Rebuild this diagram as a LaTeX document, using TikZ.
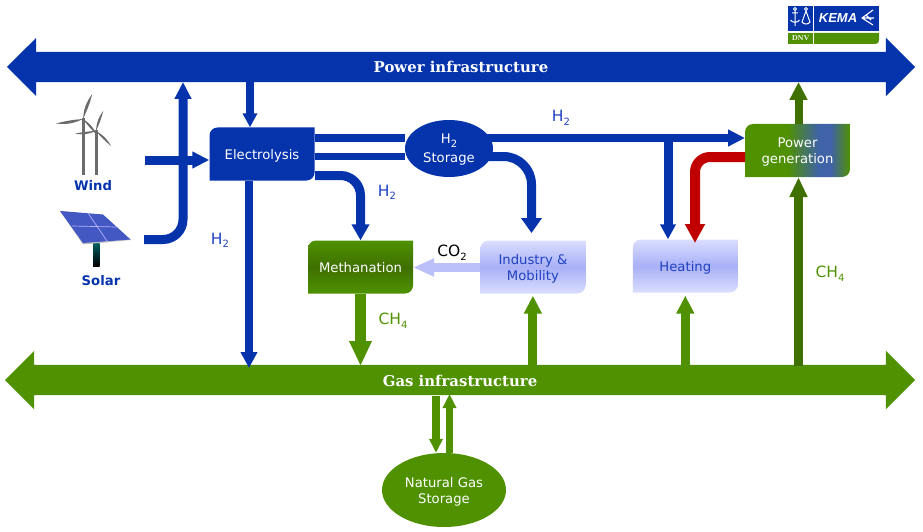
\documentclass[tikz,border=0pt]{standalone}
\usepackage{fontspec}
\setmainfont{DejaVu Sans}
\newfontfamily\titlefont{DejaVu Serif}
\newfontfamily\logofont{Liberation Sans}
\usetikzlibrary{arrows.meta,backgrounds,positioning}
\usetikzlibrary{shapes.geometric,shapes.arrows}

\definecolor{hblue}{HTML}{0433AC}
\definecolor{ggreen}{HTML}{4F9100}
\definecolor{gdark}{HTML}{3F7000}
\definecolor{hred}{HTML}{C00000}
\definecolor{lightco}{HTML}{BBC0FA}
\definecolor{paleedge}{HTML}{DADEFF}
\definecolor{palemid}{HTML}{A9B0F6}
\definecolor{inktext}{HTML}{1F42C0}
\definecolor{genblue}{HTML}{3F63A6}
\definecolor{cellblue}{HTML}{4458C4}
\pgfdeclarehorizontalshading{genshade}{100bp}{color(0bp)=(ggreen); color(45bp)=(ggreen); color(60bp)=(genblue); color(66bp)=(genblue); color(75bp)=(ggreen); color(100bp)=(ggreen)}

\newcommand{\lowtxt}[1]{\raisebox{-3.5pt}{\fontsize{10}{10}\selectfont #1}}
\newcommand{\blade}[2]{\fill[turbine] (#1) to[bend left=16] (#2) to[bend left=5] cycle;}

\begin{document}
\begin{tikzpicture}[x=1pt,y=-1pt,
    turbine/.style={color=black!58},
    infra/.style={double arrow, double arrow head extend=14pt, minimum width=58pt,
      text height=13pt, text depth=1pt, inner ysep=8pt, inner xsep=1pt, text=white,
      font=\titlefont\bfseries\fontsize{14.9}{15}\selectfont},
    leafbox/.style={rectangle, inner sep=0pt, minimum width=105pt, minimum height=53pt, align=center,
      text depth=0pt, font=\fontsize{13.2}{16}\selectfont, text=white,
      path picture={\path[#1] (path picture bounding box.south west)
        -- ([yshift=-8pt]path picture bounding box.north west)
        .. controls ([yshift=-3.6pt]path picture bounding box.north west) and ([xshift=3.6pt]path picture bounding box.north west) .. ([xshift=8pt]path picture bounding box.north west)
        -- (path picture bounding box.north east)
        -- ([yshift=8pt]path picture bounding box.south east)
        .. controls ([yshift=3.6pt]path picture bounding box.south east) and ([xshift=-3.6pt]path picture bounding box.south east) .. ([xshift=-8pt]path picture bounding box.south east)
        -- cycle;}},
    paleleaf/.style={leafbox={top color=paleedge,bottom color=paleedge,middle color=palemid}, text=inktext},
    store/.style={ellipse, inner sep=0pt, align=center, text depth=0pt, text=white, font=\fontsize{13.2}{16}\selectfont},
    pipe/.style n args={3}{line width=#1, -{Triangle[width=#2,length=#3]}},
    plainpipe/.style={line width=#1},
    tag/.style={font=\fontsize{15.5}{16}\selectfont, inner sep=0pt},
    source/.style={font=\bfseries\fontsize{13.2}{14}\selectfont, text=hblue, inner sep=0pt}]

    \useasboundingbox (0,0) rectangle (923,532);

    \node[infra, fill=hblue, minimum height=908pt] (power) at (461,67) {Power infrastructure};
    \node[infra, fill=ggreen, minimum height=910pt] (gas) at (460,380) {Gas infrastructure};

    \node[leafbox={fill=hblue}] (elec) at (262,154) {Electrolysis};
    \node[store, fill=hblue, minimum width=88pt, minimum height=57pt] (storage) at (449,148.5) {H\lowtxt{2}\\[3pt]Storage};
    \node[leafbox={top color=ggreen,bottom color=ggreen,middle color=gdark}] (methanation) at (360.5,267) {Methanation};
    \node[paleleaf, right=67pt of methanation] (industry) {Industry \&\\Mobility};
    \node[paleleaf, right=47pt of industry, yshift=1pt] (heating) {Heating};
    \node[leafbox={shade,shading=genshade}] (gen) at (797.5,150.5) {Power\\generation};
    \node[store, fill=ggreen, minimum width=124pt, minimum height=74pt] (ngs) at (444,490) {Natural Gas\\Storage};

    \node[source] (wind) at (93,186) {Wind};
    \node[source] (solar) at (101,280.5) {Solar};

    \node[tag, text=inktext] (h2a) at (220,240.5) {H\lowtxt{2}};
    \node[tag, text=inktext] (h2b) at (387,192.5) {H\lowtxt{2}};
    \node[tag, text=inktext] (h2c) at (561,118) {H\lowtxt{2}};
    \node[tag] (co2) at (452,252.5) {CO\lowtxt{2}};
    \node[tag, text=ggreen] (ch4a) at (393,320.5) {CH\lowtxt{4}};
    \node[tag, text=ggreen] (ch4b) at (830,273.5) {CH\lowtxt{4}};

    % free ends
    \coordinate (windout) at (145,160);
    \coordinate (solarout) at (144,239.5);
    \coordinate (solarin) at (183,82);
    \coordinate (gridout) at (250,82);
    \coordinate (gasin) at (249,368);
    \coordinate (topin) at (405,138);
    \coordinate (lowin) at (405,156);
    \coordinate (genin) at (745,138);
    \coordinate (heattap) at (668,138);
    \coordinate (storeout) at (480,156.5);
    \coordinate (indin) at (531.5,233);
    \coordinate (methout) at (315,175.5);
    \coordinate (redout) at (745,157);
    \coordinate (redin) at (695,243);
    \coordinate (coin) at (480,267.5);
    \coordinate (genup) at (798.5,82);
    \coordinate (gasedge) at (361,366);
    \coordinate (gasdown) at (436,396);
    \coordinate (gasup) at (449.5,394);

    \begin{scope}[on background layer]
    \draw[plainpipe=8pt, color=hblue] (elec.east |- topin) to (topin);
    \draw[plainpipe=7pt, color=hblue] (elec.east |- lowin) to (lowin);
    \draw[pipe={8.5pt}{16pt}{17pt}, color=hblue] (storage |- genin) to (genin);
    \draw[pipe={9pt}{20pt}{15pt}, color=hblue, rounded corners=28pt] (storeout) -| (indin);
    \end{scope}

    \draw[pipe={9pt}{16pt}{17pt}, color=hblue] (windout) to (windout -| elec.west);
    \draw[pipe={9pt}{16pt}{17pt}, color=hblue, rounded corners=20pt] (solarout) -| (solarin);
    \draw[pipe={8pt}{14pt}{14pt}, color=hblue] (gridout) to (gridout |- elec.north);
    \draw[pipe={8.5pt}{16pt}{16pt}, color=hblue] (elec.south -| gasin) to (gasin);
    \draw[pipe={9pt}{17pt}{16pt}, color=hblue, rounded corners=20pt] (methout) -| (methanation.north);
    \draw[pipe={9pt}{15pt}{15pt}, color=hblue] (heattap) to (heattap |- heating.north);
    \draw[pipe={10pt}{19pt}{19pt}, color=hred, rounded corners=15pt] (redout) -| (redin);
    \draw[pipe={9pt}{17pt}{21pt}, color=lightco] (coin) to (coin -| methanation.east);

    \draw[pipe={8pt}{17pt}{18pt}, color=gdark] (genup |- gen.north) to (genup);
    \draw[pipe={9pt}{17pt}{20pt}, color=gdark] (genup |- gasedge) to (genup |- gen.south);
    \draw[pipe={11pt}{21pt}{25pt}, color=ggreen] (methanation.south) to (methanation.south |- gasedge);
    \draw[pipe={9pt}{17pt}{18pt}, color=ggreen] (industry.south |- gasedge) to ([yshift=-2pt]industry.south);
    \draw[pipe={9pt}{17pt}{18pt}, color=ggreen] (heating.south |- gasedge) to ([yshift=-3pt]heating.south);
    \draw[pipe={7.5pt}{13pt}{14pt}, color=ggreen] (gasdown) to (gasdown |- ngs.north);
    \draw[pipe={7.5pt}{13pt}{14pt}, color=ggreen] (gasup |- ngs.north) to (gasup);

    % wind turbines
    \fill[turbine] (82,118) rectangle (84.5,175);
    \fill[turbine] (95,130) rectangle (97.5,175);
    \blade{83,119}{92.3,94}
    \blade{83,119}{56,123.5}
    \blade{83,119}{97,135}
    \blade{96,131}{103.3,110.7}
    \blade{96,131}{75,133.7}
    \blade{96,131}{111,146}

    % solar panel
    \shade[top color=teal!75!black, bottom color=black] (93,243) rectangle (99.5,266);
    \fill[color=black!25] (60,211) -- (103,215) -- (131,240) -- (83,244.5) -- cycle;
    \fill[color=cellblue] (60,211) -- (103,214.5) -- (130.5,239.5) -- (83,243) -- cycle;
    \draw[color=white!70!blue, line width=0.7pt] (88,213) -- (107,241) (72,226) -- (117,227);

    % logo
    \fill[hblue] (788,6) rectangle (813,31);
    \fill[hblue] (814,6) rectangle (879,31);
    \fill[ggreen] (788,33) rectangle (813,44);
    \fill[ggreen] (814,33) -- (879,33) -- (879,40) .. controls (879,43) and (878,44) .. (875,44) -- (814,44) -- cycle;
    \node[inner sep=0pt, text=white, font=\logofont\bfseries\itshape\fontsize{13}{13}\selectfont] (kema) at (838,18.5) {KEMA};
    \node[inner sep=0pt, text=white!85!ggreen, font=\titlefont\bfseries\fontsize{6.8}{7}\selectfont] (dnv) at (800.5,38) {DNV};
    \draw[white, line width=1pt] (795,10) -- (795,26) (792,13) -- (798,13) (790.5,20) to[bend right=60] (799.5,20);
    \draw[white, line width=0.8pt] (795,9) circle (1.5) (806,9) circle (1.5);
    \draw[white, line width=1pt] (806,11) -- (802,22) to[bend right=60] (810,22) -- cycle;
    \draw[white, line width=1.1pt] (873,10) -- (862,18) -- (873,25) (862,18) -- (874,18) (866,15) -- (871,20);

\end{tikzpicture}
\end{document}
